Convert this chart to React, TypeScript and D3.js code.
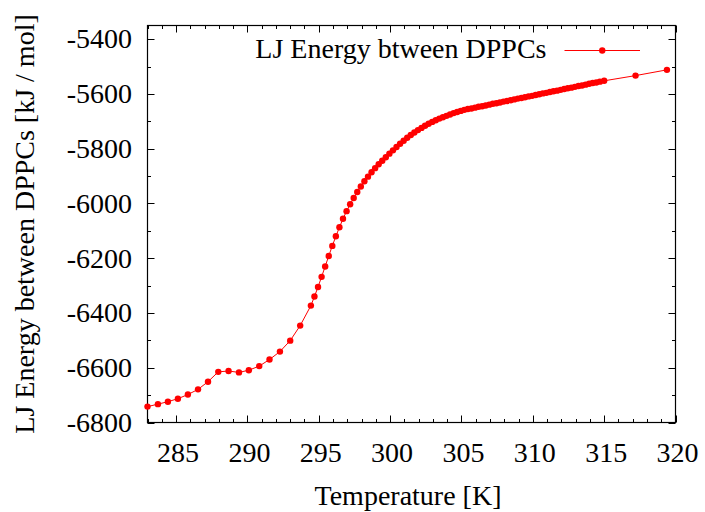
import React from "react";
import * as d3 from "d3";

const temperature: number[] = [
  283.0, 283.73, 284.43, 285.13, 285.83, 286.54, 287.24, 287.96, 288.68, 289.41,
  290.1, 290.83, 291.55, 292.28, 293.0, 293.7, 294.45,
  294.7, 294.95, 295.2, 295.45, 295.7, 295.95, 296.2, 296.45, 296.7, 296.95,
  297.2, 297.45, 297.7, 297.95, 298.2, 298.45, 298.7, 298.95, 299.2, 299.45,
  299.7, 299.95, 300.2, 300.45, 300.7, 300.95, 301.2, 301.45, 301.7, 301.95,
  302.2, 302.45, 302.7, 302.95, 303.2, 303.45, 303.7, 303.95, 304.2, 304.45,
  304.7, 304.95, 305.2, 305.45, 305.7, 305.95, 306.2, 306.45, 306.7, 306.95,
  307.2, 307.45, 307.7, 307.95, 308.2, 308.45, 308.7, 308.95, 309.2, 309.45,
  309.7, 309.95, 310.2, 310.45, 310.7, 310.95, 311.2, 311.45, 311.7, 311.95,
  312.2, 312.45, 312.7, 312.95, 313.2, 313.45, 313.7, 313.95, 314.2, 314.45,
  314.7, 315.0, 317.2, 319.4,
];

const energy: number[] = [
  -6742, -6733, -6724, -6713, -6698, -6679, -6651, -6615, -6612, -6617,
  -6609, -6594, -6570, -6541, -6501, -6446, -6373,
  -6340, -6305, -6268, -6230, -6192, -6155, -6120, -6087, -6056, -6028,
  -6003, -5980, -5958, -5938, -5919, -5902, -5886, -5871, -5857, -5844,
  -5831, -5818, -5806, -5794, -5782, -5771, -5760, -5750, -5741, -5732,
  -5724, -5716, -5709, -5702, -5696, -5690, -5685, -5680, -5675, -5670,
  -5666, -5662, -5658, -5655, -5653, -5650, -5647, -5645, -5642, -5639,
  -5636, -5634, -5631, -5628, -5626, -5623, -5620, -5617, -5615, -5612,
  -5609, -5607, -5604, -5601, -5598, -5596, -5593, -5590, -5588, -5585,
  -5582, -5579, -5577, -5574, -5571, -5569, -5566, -5563, -5560, -5558,
  -5555, -5552, -5533, -5512,
];

const xTickValues: number[] = [285, 290, 295, 300, 305, 310, 315, 320];
const yTickValues: number[] = [-6800, -6600, -6400, -6200, -6000, -5800, -5600, -5400];
const xDomain: [number, number] = [283, 320];
const yDomain: [number, number] = [-6800, -5350];

const seriesName = "LJ Energy btween DPPCs";
const xTitle = "Temperature [K]";
const yTitle = "LJ Energy between DPPCs [kJ / mol]";

export default function App() {
  const W = 705;
  const H = 512;
  const left = 147.5, right = 675.5, top = 25.5, bottom = 422.5;
  const x = d3.scaleLinear().domain(xDomain).range([left, right]);
  const y = d3.scaleLinear().domain(yDomain).range([bottom, top]);
  const fs = 28;
  const red = "#ff0000";

  const pts = temperature.map((t, i) => [t, energy[i]] as [number, number]);
  const line = d3.line<[number, number]>().x((d) => x(d[0])).y((d) => y(d[1]));

  const xMinor = d3.range(xDomain[0], xDomain[1] + 0.001, 1);
  const yMinor = d3.range(yDomain[0], yDomain[1] + 0.001, 100);
  const majLen = 7, minLen = 3.5;

  const legY = 50.5;
  const legX1 = 564.5, legX2 = 640;
  const textStyle: React.CSSProperties = { fontFamily: '"Liberation Serif", "DejaVu Serif"', fontSize: fs };

  return (
    <svg width={W} height={H} style={{ position: "absolute", left: 0, top: 0, display: "block", background: "#fff" }}>
      <rect x={0} y={0} width={W} height={H} fill="#fff" />
      <g stroke="#000" strokeWidth={1}>
        {xMinor.map((v) => {
          const isMaj = xTickValues.includes(Math.round(v));
          const L = isMaj ? majLen : minLen;
          const px = Math.round(x(v)) + 0.5;
          return (
            <g key={"xm" + v}>
              <line x1={px} x2={px} y1={bottom} y2={bottom - L} />
              <line x1={px} x2={px} y1={top} y2={top + L} />
            </g>
          );
        })}
        {yMinor.map((v) => {
          const isMaj = yTickValues.includes(Math.round(v));
          const L = isMaj ? majLen : minLen;
          const py = Math.round(y(v)) + 0.5;
          return (
            <g key={"ym" + v}>
              <line x1={left} x2={left + L} y1={py} y2={py} />
              <line x1={right} x2={right - L} y1={py} y2={py} />
            </g>
          );
        })}
      </g>
      <rect x={left} y={top} width={right - left} height={bottom - top} fill="none" stroke="#000" strokeWidth={1.2} />
      <g style={textStyle} fill="#000">
        {yTickValues.map((v) => (
          <text key={"yl" + v} x={132} y={y(v) + 9.3} textAnchor="end">{String(v)}</text>
        ))}
        {xTickValues.map((v) => (
          <text key={"xl" + v} x={x(v) + 2} y={462} textAnchor="middle">{String(v)}</text>
        ))}
        <text x={408} y={505} textAnchor="middle">{xTitle}</text>
        <text transform={`translate(33.5, 224) rotate(-90)`} textAnchor="middle">{yTitle}</text>
        <text x={546.5} y={57.5} textAnchor="end">{seriesName}</text>
      </g>
      <path d={line(pts) || ""} fill="none" stroke={red} strokeWidth={1} />
      <g fill={red}>
        {pts.map((d, i) => (
          <circle key={"p" + i} cx={x(d[0])} cy={y(d[1])} r={3.2} />
        ))}
      </g>
      <line x1={legX1} x2={legX2} y1={legY} y2={legY} stroke={red} strokeWidth={1} />
      <circle cx={(legX1 + legX2) / 2} cy={legY} r={3.2} fill={red} />
    </svg>
  );
}
